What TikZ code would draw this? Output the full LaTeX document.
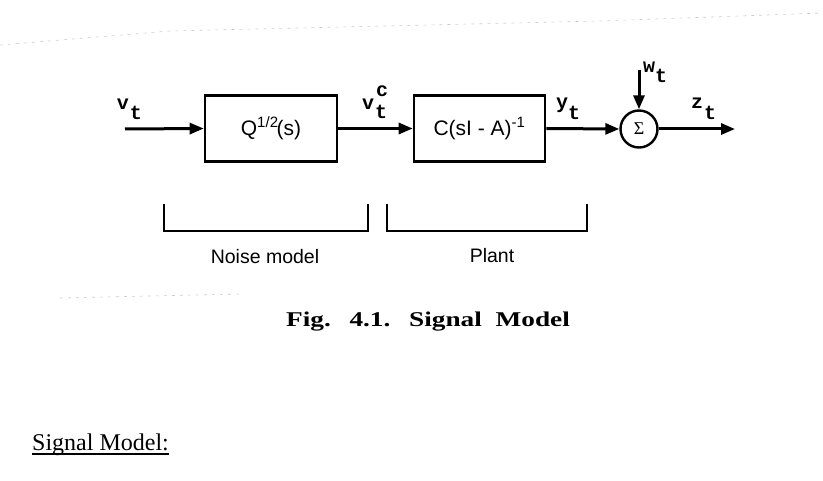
\documentclass[tikz,border=0pt]{standalone}
\usepackage{fontspec}
\usepackage{graphicx}
\setmainfont{Liberation Serif}
\setsansfont{Liberation Sans}
\newfontfamily\labfont{Liberation Mono}
\usetikzlibrary{arrows.meta}
\begin{document}
\begin{tikzpicture}[x=1pt,y=-1pt,
  blk/.style={draw, line width=2.6pt, minimum width=132pt, minimum height=66pt, inner sep=0pt,
    font=\sffamily\fontsize{21}{21}\selectfont},
  sig/.style={line width=3pt, -{Triangle[length=14pt,width=11pt]}},
  brk/.style={line width=2pt},
  lab/.style={font=\labfont\bfseries\fontsize{20}{20}\selectfont, inner sep=0pt},
  grp/.style={font=\sffamily\fontsize{19.5}{19.5}\selectfont, inner sep=0pt},
  scan/.style={gray!40, line width=0.6pt, dash pattern=on 3pt off 5pt}]
\useasboundingbox[fill=white] (0,0) rectangle (823,481);
% faint scan traces
\coordinate (s1) at (0,45); \coordinate (s2) at (170,31); \coordinate (s3) at (600,21); \coordinate (s4) at (823,13);
\draw[scan] (s1) -- (s2) -- (s3) -- (s4);
\coordinate (s5) at (60,298); \coordinate (s6) at (240,294);
\draw[scan] (s5) -- (s6);
% blocks
\node[blk, minimum width=132pt] (b1) at (271,128.5) {\raisebox{-3pt}{Q\textsuperscript{\fontsize{15}{15}\selectfont 1/2}\kern-2pt(s)}};
\node[blk, minimum width=131pt] (b2) at (479.5,128.5) {C(sI - A)\textsuperscript{\fontsize{15}{15}\selectfont -1}};
\node[draw, circle, line width=2.4pt, minimum size=37pt, inner sep=0pt] (sum) at (639,129)
  {\fontsize{18}{18}\selectfont Σ};
\coordinate (in) at (125,129);
\coordinate (w) at (639,70);
\coordinate (out) at (735,129);
\draw[sig] (in) -- (b1.west);
\draw[sig] (b1.east) -- (b2.west);
\draw[sig] (b2.east) -- (sum.west);
\draw[sig] (w) -- (sum.north);
\draw[sig] (sum.east) -- (out);
% signal labels
\node[lab] (v1) at (123,104) {v};
\node[lab] (t1) at (136,113) {t};
\node[lab] (v2) at (368,104) {v};
\node[lab] (c2) at (382,91) {c};
\node[lab] (t2) at (381,112) {t};
\node[lab] (y3) at (562,105) {y};
\node[lab] (t3) at (574,113) {t};
\node[lab] (w4) at (649,67) {w};
\node[lab] (t4) at (661,76) {t};
\node[lab] (z5) at (697,103) {z};
\node[lab] (t5) at (710,113) {t};
% brackets
\coordinate (n1) at (164,204); \coordinate (n2) at (368,204);
\coordinate (p1) at (387,204); \coordinate (p2) at (587,204);
\draw[brk] (n1) -- ++(0,27) -| (n2);
\draw[brk] (p1) -- ++(0,27) -| (p2);
\node[grp] (noise) at (265,257) {Noise model};
\node[grp] (plant) at (492,256) {Plant};
% caption
\node[inner sep=0pt] (cap) at (428,322) {\scalebox{1.3}[1]{\bfseries\fontsize{21}{21}\selectfont Fig.\hspace{0.35em} 4.1.\hspace{0.35em} Signal\hspace{0.25em} Model}};
% heading
\node[anchor=base west, inner sep=0pt] (sm) at (32,450) {\fontsize{24}{24}\selectfont Signal Model:};
\draw[line width=1.5pt] ([yshift=-4pt]sm.base west) -- ([yshift=-4pt]sm.base east);
\end{tikzpicture}
\end{document}
